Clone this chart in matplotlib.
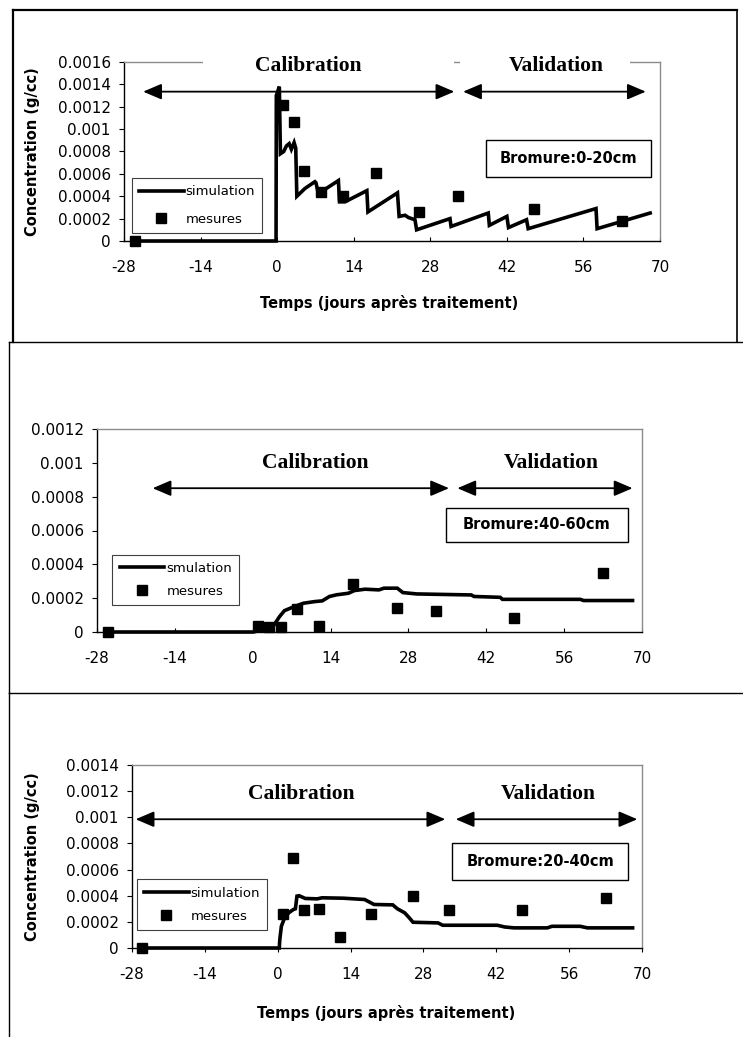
import matplotlib
matplotlib.use("Agg")
import matplotlib.pyplot as plt
from matplotlib.patches import Rectangle
from matplotlib.lines import Line2D

plt.rcParams['font.family'] = ['DejaVu Sans']
plt.rcParams['axes.unicode_minus'] = False

# jours de mesure (identiques pour les 3 profondeurs)
mes_days = [-26, 1, 3, 5, 8, 12, 18, 26, 33, 47, 63]

# mesures (g/cc)
mes_0_20 = [0, 0.00122, 0.00106, 0.00063, 0.00044, 0.0004, 0.000605, 0.000256, 0.000405, 0.00029, 0.00018]
mes_40_60 = [0, 0.0000375, 0.000028, 0.000028, 0.000134, 0.0000375, 0.000282, 0.000144, 0.000124, 0.000085, 0.000347]
mes_20_40 = [0, 0.00026, 0.00069, 0.000287, 0.0003, 0.000085, 0.00026, 0.0004, 0.000287, 0.000287, 0.000384]

# simulation
sim_0_20_days = [-26.3, -0.2, -0.15, 0.4, 0.6, 1.2, 1.7, 2.2, 2.6, 3.1, 3.4, 3.6, 5.1, 6.9, 7.1,
                 7.5, 9.0, 11.2, 11.4, 12.4, 16.4, 16.6, 22.0, 22.3, 23.4, 24.0, 25.2, 25.5, 31.6,
                 31.8, 38.6, 38.8, 42.0, 42.3, 45.6, 45.9, 58.3, 58.5, 68.2]
sim_0_20 = [0, 0, 0.0013, 0.00138, 0.00078, 0.0008, 0.00085, 0.00087, 0.00082, 0.00088, 0.00083,
            0.0004, 0.00047, 0.00053, 0.00052, 0.00043, 0.00047, 0.00054, 0.00035, 0.00035, 0.00045,
            0.00026, 0.00043, 0.00022, 0.00023, 0.00021, 0.00019, 0.0001, 0.0002, 0.00013, 0.00025,
            0.00014, 0.00022, 0.00012, 0.00019, 0.00011, 0.00029, 0.00011, 0.00025]

sim_40_60_days = [-26.3, 0.1, 2.3, 3.8, 4.8, 5.7, 7.0, 9.1, 11.2, 12.5, 13.8, 15.1, 17.2, 18.3,
                  20.2, 22.7, 23.6, 26.0, 27.0, 29.5, 39.3, 39.8, 44.5, 44.9, 58.9, 59.5, 68.3]
sim_40_60 = [0, 0, 0.000016, 0.00004, 0.00009, 0.000126, 0.000144, 0.00017, 0.00018, 0.000184,
             0.00021, 0.00022, 0.000229, 0.000245, 0.000253, 0.000249, 0.000259, 0.000259, 0.000233,
             0.000225, 0.000219, 0.00021, 0.000205, 0.000193, 0.000193, 0.000186, 0.000186]

sim_20_40_days = [-26.4, 0.3, 0.4, 0.7, 1.2, 2.1, 3.0, 3.4, 3.7, 4.1, 5.3, 7.6, 8.5, 12.6, 16.7,
                  18.5, 22.1, 23.0, 24.4, 25.3, 26.0, 30.8, 31.7, 42.2, 43.6, 45.4, 51.8, 52.7,
                  58.1, 59.5, 68.2]
sim_20_40 = [0, 0, 0.000064, 0.000166, 0.000218, 0.000269, 0.000294, 0.0003, 0.000397, 0.0004,
             0.000379, 0.000376, 0.000384, 0.000381, 0.000371, 0.000333, 0.00033, 0.0003, 0.000269,
             0.00023, 0.000197, 0.000192, 0.000174, 0.000174, 0.000161, 0.000154, 0.000154,
             0.000166, 0.000166, 0.000154, 0.000154]

x_ticks = [-28, -14, 0, 14, 28, 42, 56, 70]
y_ticks_16 = [0, 0.0002, 0.0004, 0.0006, 0.0008, 0.001, 0.0012, 0.0014, 0.0016]
y_labels_16 = ["0", "0.0002", "0.0004", "0.0006", "0.0008", "0.001", "0.0012", "0.0014", "0.0016"]

W, H = 743, 1037
fig = plt.figure(figsize=(W / 100, H / 100), dpi=100)


def px_axes(x0, y0, x1, y1):
    return fig.add_axes([x0 / W, 1 - y1 / H, (x1 - x0) / W, (y1 - y0) / H])


def draw_panel(ax, sim_x, sim_y, mes_y, sim_label, depth_label, ymax, xdir, lay):
    ax.plot(sim_x, sim_y, color='black', lw=2.6, label=sim_label, clip_on=False, zorder=3,
            solid_joinstyle='miter')
    ax.plot(mes_days, mes_y, 's', color='black', ms=7, label='mesures', clip_on=False, zorder=4)

    n = sum(1 for t in y_ticks_16 if t <= ymax + 1e-9)
    ax.set_xlim(-28, 70)
    ax.set_ylim(0, ymax)
    ax.set_xticks(x_ticks)
    ax.set_yticks(y_ticks_16[:n])
    ax.set_yticklabels(y_labels_16[:n])
    ax.tick_params(axis='y', direction='out', length=3.6, width=0.8, pad=6, labelsize=11)
    if xdir == 'in':
        ax.tick_params(axis='x', direction='in', length=3, width=0.8, pad=14, labelsize=11)
    else:
        ax.tick_params(axis='x', direction='out', length=3, width=0.8, pad=11, labelsize=11)
    for s in ['left', 'bottom']:
        ax.spines[s].set_color('black')
        ax.spines[s].set_linewidth(1)
    for s in ['top', 'right']:
        ax.spines[s].set_color('#8c8c8c')
        ax.spines[s].set_linewidth(1)

    # masques blancs sur le cadre (panneau du haut)
    for (a, b) in lay.get('masks', []):
        ax.add_patch(Rectangle((a, ymax * 0.95), b - a, ymax * 0.08, facecolor='white',
                               edgecolor='none', clip_on=False, zorder=5))

    ty, cx, vx = lay['text']
    ax.text(cx, ty, 'Calibration', family='Liberation Serif', weight='bold', fontsize=15.5,
            ha='center', va='center', zorder=6)
    ax.text(vx, ty, 'Validation', family='Liberation Serif', weight='bold', fontsize=15.5,
            ha='center', va='center', zorder=6)

    ay, c0, c1, v0, v1 = lay['arrows']
    for (a, b) in [(c0, c1), (v0, v1)]:
        ax.annotate('', xy=(b, ay), xytext=(a, ay), annotation_clip=False,
                    arrowprops=dict(arrowstyle='<|-|>,head_length=0.75,head_width=0.32',
                                    mutation_scale=15, color='black', lw=1.3,
                                    shrinkA=0, shrinkB=0))

    b0, b1, bv0, bv1 = lay['box']
    ax.add_patch(Rectangle((b0, bv0), b1 - b0, bv1 - bv0, facecolor='white',
                           edgecolor='black', lw=1, zorder=6))
    ax.text((b0 + b1) / 2, (bv0 + bv1) / 2, depth_label, weight='bold', fontsize=10.5,
            ha='center', va='center', zorder=7)

    leg = ax.legend(loc='lower left', bbox_to_anchor=lay['legend'], borderaxespad=0,
                    fontsize=9.5, handlelength=3.4, handletextpad=0.15, labelspacing=lay['lsp'],
                    borderpad=0.55, fancybox=False, framealpha=1, edgecolor='#404040')
    leg.get_frame().set_linewidth(0.8)
    leg.set_zorder(8)


# panneau 1 : 0-20 cm
ax1 = px_axes(124, 62, 660, 241)
draw_panel(ax1, sim_0_20_days, sim_0_20, mes_0_20, 'simulation', 'Bromure:0-20cm', 0.0016, 'in',
           dict(masks=[(-13.6, 32.3), (33.4, 64.6)],
                text=(0.00156, 5.7, 51.1),
                arrows=(0.001335, -24.5, 32.4, 34.0, 67.4),
                box=(38.1, 68.3, 0.000575, 0.000903),
                legend=(0.014, 0.044), lsp=1.1))
ax1.set_ylabel('Concentration (g/cc)', weight='bold', fontsize=10.5)
ax1.yaxis.set_label_coords(-0.157, 0.5)
ax1.set_xlabel('Temps (jours après traitement)', weight='bold', fontsize=10.5)
ax1.xaxis.set_label_coords(0.494, -0.30)

# panneau 2 : 40-60 cm
ax2 = px_axes(97, 429, 642, 632)
draw_panel(ax2, sim_40_60_days, sim_40_60, mes_40_60, 'smulation', 'Bromure:40-60cm', 0.0012, 'in',
           dict(text=(0.000997, 11.2, 53.6),
                arrows=(0.00085, -18.0, 35.3, 36.8, 68.3),
                box=(34.7, 67.5, 0.000534, 0.000735),
                legend=(0.028, 0.133), lsp=0.75))

# panneau 3 : 20-40 cm
ax3 = px_axes(132, 765, 642, 948)
draw_panel(ax3, sim_20_40_days, sim_20_40, mes_20_40, 'simulation', 'Bromure:20-40cm', 0.0014, 'out',
           dict(text=(0.00118, 4.5, 52.0),
                arrows=(0.000985, -27.3, 32.2, 34.2, 69.1),
                box=(33.5, 67.3, 0.00052, 0.0008),
                legend=(0.009, 0.099), lsp=0.75))
ax3.set_ylabel('Concentration (g/cc)', weight='bold', fontsize=10.5)
ax3.yaxis.set_label_coords(-0.18, 0.5)
ax3.set_xlabel('Temps (jours après traitement)', weight='bold', fontsize=10.5)
ax3.xaxis.set_label_coords(0.498, -0.31)


# cadres des panneaux (pixels de la figure)
def frame_line(x0, y0, x1, y1, lw):
    fig.add_artist(Line2D([x0 / W, x1 / W], [1 - y0 / H, 1 - y1 / H], color='black', lw=lw,
                          transform=fig.transFigure))


frame_line(13, 10, 737, 10, 1.6)
frame_line(13, 10, 13, 342, 1.6)
frame_line(737, 10, 737, 342, 1.2)
frame_line(9, 342, 743, 342, 1.0)
frame_line(9, 342, 9, 693, 1.0)
frame_line(9, 693, 743, 693, 1.0)
frame_line(9, 693, 9, 1037, 1.0)

fig.savefig('out.png', dpi=100)
